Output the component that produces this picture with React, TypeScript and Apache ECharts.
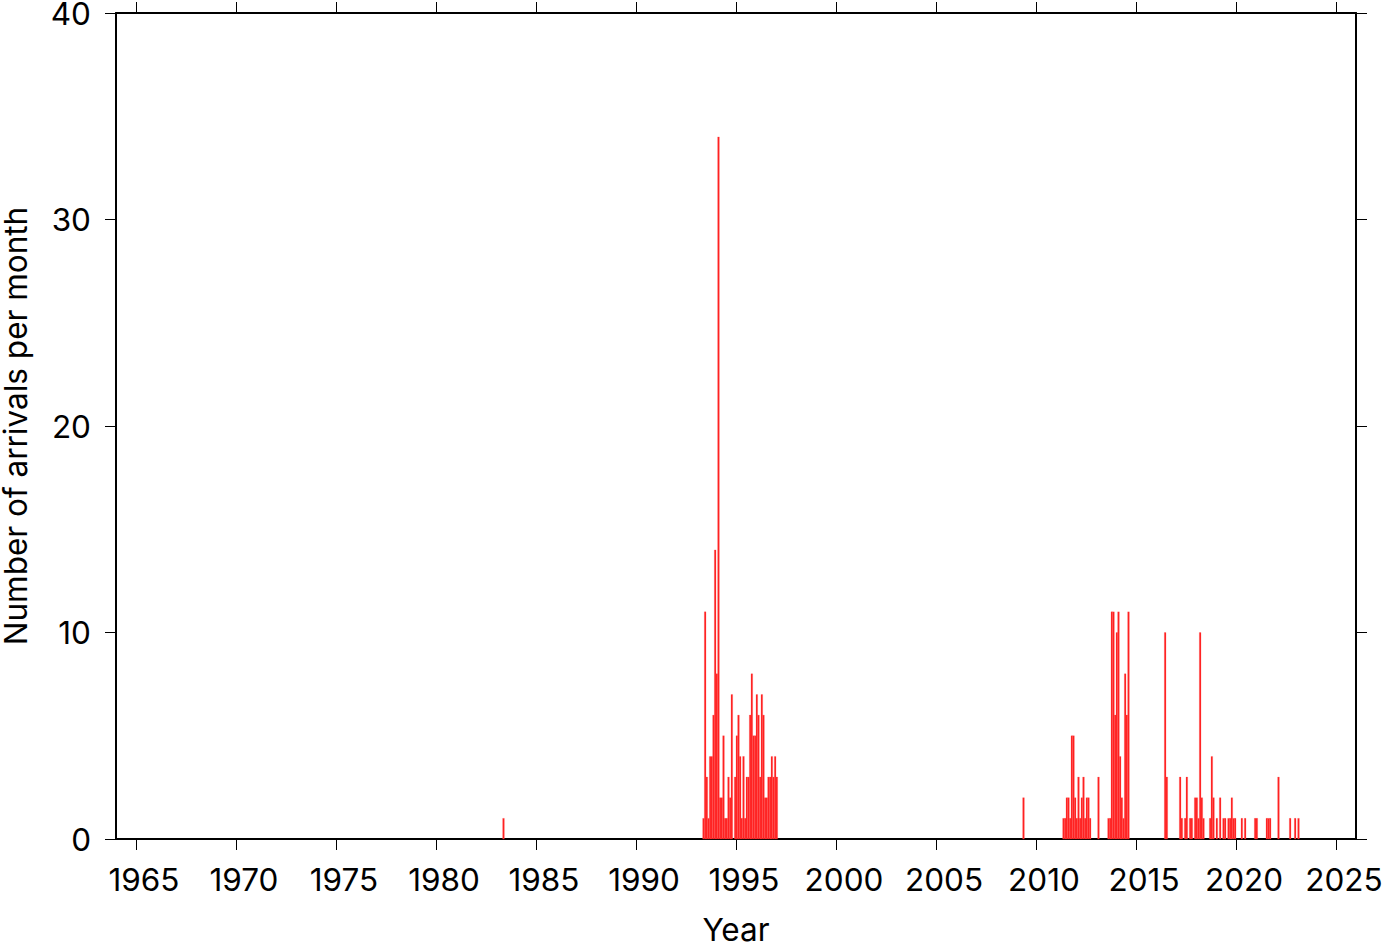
import React, { useEffect, useRef } from "react";
import * as echarts from "echarts";

// Tick labels
const xTickYears = [1965, 1970, 1975, 1980, 1985, 1990, 1995, 2000, 2005, 2010, 2015, 2020, 2025];
const yTickValues = [0, 10, 20, 30, 40];

// Monthly arrival counts, each burst starts at the given year-month
const burst1983Start = "1983-05";
const burst1983Counts = [1];

const burst1993Start = "1993-05";
const burst1993Counts = [
  1, 11, 3, 1, 4, 4, 6, 14, 8, 34,
  2, 2, 5, 1, 1, 3, 2, 7, 0, 3,
  5, 6, 4, 1, 4, 1, 3, 3, 6, 8,
  5, 5, 7, 6, 3, 7, 6, 2, 2, 3,
  3, 4, 3, 4, 3,
];

const burst2009Start = "2009-05";
const burst2009Counts = [2];

const burst2011Start = "2011-05";
const burst2011Counts = [1, 1, 2, 2, 1, 5, 5, 2, 1, 3, 1, 2, 3, 1, 2, 2, 1];

const burst2013aStart = "2013-02";
const burst2013aCounts = [3];

const burst2013bStart = "2013-08";
const burst2013bCounts = [1, 1, 11, 11, 6, 10, 11, 4, 2, 1, 8, 6, 11];

const burst2016Start = "2016-06";
const burst2016Counts = [
  10, 3, 0, 0, 0, 0, 0, 0, 0, 3,
  1, 0, 1, 3, 0, 1, 1, 0, 2, 2,
  1, 10, 2, 1, 0, 0, 0, 1, 4, 2,
  0, 1, 0, 2, 0, 1, 1, 0, 1, 1,
  2, 1, 1, 0, 0, 0, 1, 0, 1, 0,
  0, 0, 0, 0, 1, 1, 0, 0, 0, 0,
  0, 1, 1, 1, 0, 0, 0, 0, 3, 0,
  0, 0, 0, 0, 0, 1, 0, 0, 1, 0,
  1,
];

const bursts: [string, number[]][] = [
  [burst1983Start, burst1983Counts],
  [burst1993Start, burst1993Counts],
  [burst2009Start, burst2009Counts],
  [burst2011Start, burst2011Counts],
  [burst2013aStart, burst2013aCounts],
  [burst2013bStart, burst2013bCounts],
  [burst2016Start, burst2016Counts],
];

function buildData(): number[][] {
  const out: number[][] = [];
  bursts.forEach(([start, counts]) => {
    const [y, m] = start.split("-").map(Number);
    counts.forEach((c, i) => {
      if (c <= 0) return;
      const t0 = y + (m - 1 + i) / 12;
      out.push([t0, t0 + 1 / 12, c]);
    });
  });
  return out;
}

const FONT = "Inter, 'Liberation Sans', Arial, sans-serif";

export default function App() {
  const ref = useRef<HTMLDivElement>(null);
  useEffect(() => {
    if (!ref.current) return;
    const chart = echarts.init(ref.current, undefined, { renderer: "svg" });
    const axisLine = { show: true, onZero: false, lineStyle: { color: "#000", width: 2 } };
    const tick = { show: true, inside: false, length: 11, lineStyle: { color: "#000", width: 1 } };
    chart.setOption({
      animation: false,
      backgroundColor: "#fff",
      grid: {
        left: 116,
        right: 26,
        top: 13,
        bottom: 103,
        containLabel: false,
        outerBoundsMode: "none",
      },
      xAxis: [
        {
          type: "value",
          min: 1964,
          max: 2026,
          position: "bottom",
          axisLine,
          axisTick: { ...tick, customValues: xTickYears },
          axisLabel: {
            customValues: xTickYears,
            margin: 24,
            padding: [0, 0, 0, 16],
            color: "#000",
            fontFamily: FONT,
            fontSize: 31.5,
            formatter: (v: number) => String(Math.round(v)),
          },
          splitLine: { show: false },
          name: "Year",
          nameLocation: "middle",
          nameGap: 74,
          nameTextStyle: { color: "#000", fontFamily: FONT, fontSize: 31.5 },
        },
        {
          type: "value",
          min: 1964,
          max: 2026,
          position: "top",
          axisLine,
          axisTick: { ...tick, customValues: xTickYears },
          axisLabel: { show: false },
          splitLine: { show: false },
        },
      ],
      yAxis: [
        {
          type: "value",
          min: 0,
          max: 40,
          interval: 10,
          position: "left",
          axisLine,
          axisTick: tick,
          axisLabel: {
            margin: 25,
            color: "#000",
            fontFamily: FONT,
            fontSize: 31.5,
          },
          splitLine: { show: false },
          name: "Number of arrivals per month",
          nameLocation: "middle",
          nameGap: 85,
          nameTextStyle: { color: "#000", fontFamily: FONT, fontSize: 31.5 },
        },
        {
          type: "value",
          min: 0,
          max: 40,
          interval: 10,
          position: "right",
          axisLine,
          axisTick: tick,
          axisLabel: { show: false },
          splitLine: { show: false },
        },
      ],
      series: [
        {
          type: "custom",
          xAxisIndex: 0,
          yAxisIndex: 0,
          encode: { x: [0, 1], y: 2 },
          data: buildData(),
          renderItem: (_params: any, api: any) => {
            const t0 = api.value(0);
            const t1 = api.value(1);
            const v = api.value(2);
            const pTop = api.coord([t0, v]);
            const pBot = api.coord([t1, 0]);
            return {
              type: "rect",
              shape: {
                x: pTop[0],
                y: pTop[1],
                width: pBot[0] - pTop[0],
                height: pBot[1] - pTop[1],
              },
              style: { fill: "#ff1f1f", stroke: "#ff4d4d", lineWidth: 0.25 },
            };
          },
        },
      ],
    });
    return () => chart.dispose();
  }, []);
  void yTickValues;
  return (
    <div
      ref={ref}
      style={{ position: "absolute", left: 0, top: 0, width: 1382, height: 942 }}
    />
  );
}
